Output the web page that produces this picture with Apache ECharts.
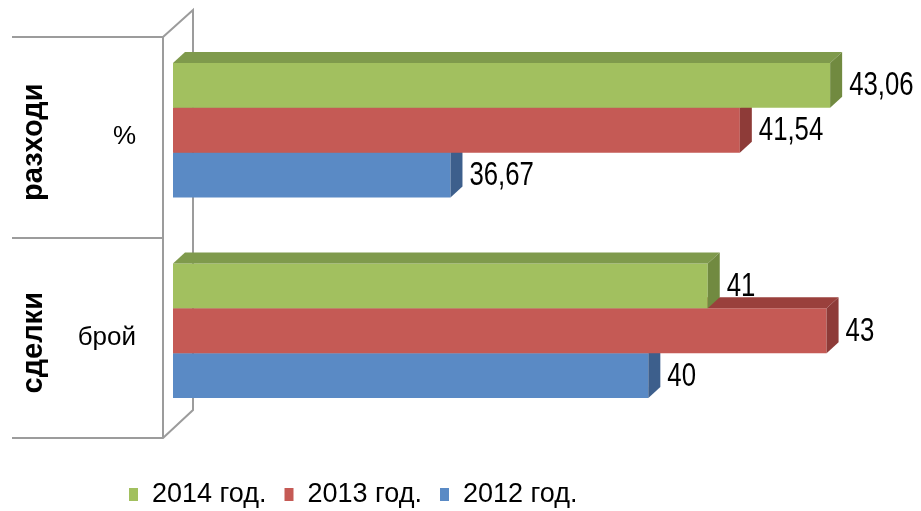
<!DOCTYPE html>
<html><head><meta charset="utf-8">
<script src="https://cdn.jsdelivr.net/npm/echarts@6/dist/echarts.min.js"></script>
<style>html,body{margin:0;padding:0;background:#fff}#c{width:921px;height:511px}</style>
</head><body><div id="c"></div>
<script>
// ---- data ----
const groups = ['разходи', 'сделки'];
const units = ['%', 'брой'];
const seriesNames = ['2014 год.', '2013 год.', '2012 год.'];
const v2014 = [43.06, 41];
const v2013 = [41.54, 43];
const v2012 = [36.67, 40];
const axisMin = 32, axisMax = 44;

// ---- styles ----
const FONT = '"Liberation Sans",Arial,sans-serif';
const pal = {
  '2014 год.': {front: '#a2c05f', top: '#7f9a4c', side: '#718a40'},
  '2013 год.': {front: '#c55a55', top: '#9a403c', side: '#8e3b38'},
  '2012 год.': {front: '#5a8ac5', top: '#40679c', side: '#3d5f8c'}
};
const DX = 12, DY = 11;
const LINE = '#9c9c9c';

function fmt(v){ return String(v).replace('.', ','); }

function makeRender(slot, p){
  return function(params, api){
    const val = api.value(0), cat = api.value(1);
    const c0 = api.coord([axisMin, cat]);
    const c1 = api.coord([val, cat]);
    const band = api.size([0, 1])[1];
    const h = band * 0.224;
    const yT = c0[1] + (slot - 1.5) * h;
    const x0 = c0[0], x1 = c1[0];
    return {
      type: 'group',
      children: [
        {type: 'rect', shape: {x: x0, y: yT, width: x1 - x0, height: h}, style: {fill: p.front}},
        {type: 'polygon', shape: {points: [[x0, yT], [x0 + DX, yT - DY], [x1 + DX, yT - DY], [x1, yT]]}, style: {fill: p.top}},
        {type: 'polygon', shape: {points: [[x1, yT], [x1 + DX, yT - DY], [x1 + DX, yT + h - DY], [x1, yT + h]]}, style: {fill: p.side}},
        {type: 'text', x: x1 + DX + 7, y: yT + h / 2 + 1, scaleX: 0.78,
          style: {x: 0, y: 0, text: fmt(val), fill: '#000',
            font: '33px ' + FONT, verticalAlign: 'middle', align: 'left'}}
      ]
    };
  };
}

const valuesByName = {'2014 год.': v2014, '2013 год.': v2013, '2012 год.': v2012};
const series = [];
// draw bottom slot first so upper bars overlap correctly
[['2012 год.', 2], ['2013 год.', 1], ['2014 год.', 0]].forEach(([name, slot]) => {
  series.push({
    type: 'custom', name: name, xAxisIndex: 0, yAxisIndex: 0,
    itemStyle: {color: pal[name].front},
    encode: {x: 0, y: 1},
    renderItem: makeRender(slot, pal[name]),
    data: valuesByName[name].map((v, i) => [v, i])
  });
});

const chart = echarts.init(document.getElementById('c'), null, {renderer: 'canvas'});
chart.setOption({
  animation: false,
  backgroundColor: '#fff',
  grid: [
    {left: 173, top: 30, width: 713, height: 401},
    {left: 12, top: 37, width: 151, height: 401}
  ],
  xAxis: [
    {gridIndex: 0, type: 'value', min: axisMin, max: axisMax, show: false},
    {gridIndex: 1, type: 'value', min: 0, max: 1, show: false}
  ],
  yAxis: [
    {gridIndex: 0, type: 'category', data: groups, inverse: true, show: false},
    {gridIndex: 1, type: 'category', data: units, inverse: true, position: 'right',
      axisLine: {show: true, onZero: false, lineStyle: {color: LINE, width: 2}},
      axisTick: {show: false},
      axisLabel: {inside: true, margin: 27, fontSize: 26, fontFamily: FONT, color: '#000', padding: [9, 0, 0, 0]},
      splitLine: {show: true, lineStyle: {color: LINE, width: 2}}},
    {gridIndex: 1, type: 'category', data: groups, inverse: true, position: 'left',
      axisLine: {show: false, onZero: false}, axisTick: {show: false}, splitLine: {show: false},
      axisLabel: {inside: true, rotate: 90, margin: 22, align: 'center', verticalAlign: 'middle',
        padding: [0, 10, 0, 0],
        fontWeight: 'bold', fontSize: 29, fontFamily: FONT, color: '#000'}}
  ],
  legend: {
    data: seriesNames, left: 124, top: 476, icon: 'rect', itemWidth: 9, itemHeight: 13, itemGap: 18,
    textStyle: {fontSize: 27, fontFamily: FONT, color: '#000', padding: [0, 0, 0, 9]}
  },
  graphic: [
    {type: 'polyline', z: 0, shape: {points: [[163, 37], [193, 10], [193, 410], [163, 438]]},
      style: {stroke: LINE, lineWidth: 2, fill: null}}
  ],
  series: series
});
</script></body></html>
